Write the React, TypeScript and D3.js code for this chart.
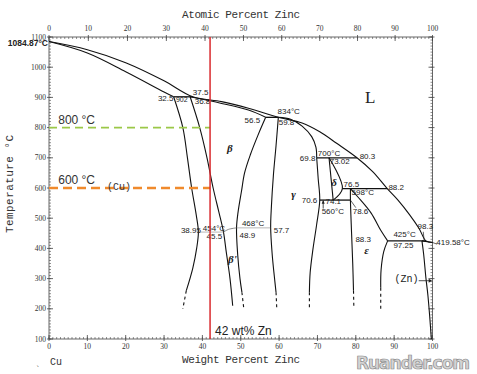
import React from 'react';
import * as d3 from 'd3';

type Pt = [number, number];

// phase boundaries, [wt% Zn, temperature °C]
const liquidus: Pt[] = [[0, 1084.87], [10, 1058], [20, 1015], [30, 955], [37.5, 902], [45, 886], [52, 864], [59.8, 834], [66, 815], [70.6, 786], [75, 748], [80.3, 700], [84.4, 654], [88.2, 598], [91, 560], [94, 512], [96.5, 466], [98.3, 425], [100, 419.58]];
const cuSolidus: Pt[] = [[0, 1084.87], [10, 1047], [20, 985], [30, 918], [32.5, 902]];
const betaSolidus: Pt[] = [[36.8, 902], [45, 880], [52, 858], [56.5, 834]];
const alphaSolvus: Pt[] = [[32.5, 902], [34.9, 800], [36.1, 700], [37.2, 600], [38.4, 510], [38.95, 454], [38.5, 400], [37.5, 335], [35.8, 260]];
const alphaSolvusTail: Pt[] = [[35.8, 260], [34.9, 200]];
const betaAlpha: Pt[] = [[36.8, 902], [39.3, 800], [41.2, 700], [42.8, 600], [44.3, 520], [45.5, 454], [46.2, 390], [47.2, 300], [47.9, 210]];
const betaGamma: Pt[] = [[56.5, 834], [54.5, 775], [52.5, 710], [51, 650], [50.2, 590], [49.3, 520], [48.9, 468], [49.2, 380], [49.8, 300], [50.3, 255]];
const betaGammaTail: Pt[] = [[50.3, 255], [50.8, 200]];
const gammaLeft: Pt[] = [[59.8, 834], [59.2, 740], [58.5, 640], [58, 540], [57.8, 468], [58.2, 380], [58.9, 290], [59.2, 255]];
const gammaLeftTail: Pt[] = [[59.2, 255], [59.4, 200]];
const gammaSolidus: Pt[] = [[59.8, 834], [63, 828], [66, 805], [68.5, 770], [69.6, 735], [69.8, 700]];
const gammaRight: Pt[] = [[69.8, 700], [70.2, 630], [70.6, 560], [69.8, 480], [68.8, 395], [68.1, 320], [67.9, 255]];
const gammaRightTail: Pt[] = [[67.9, 255], [67.9, 200]];
const deltaLeft: Pt[] = [[73.02, 700], [74.1, 560]];
const deltaRight: Pt[] = [[73.02, 700], [76.5, 598], [74.1, 560]];
const epsLeft: Pt[] = [[78.6, 598], [78.6, 560], [78.9, 450], [79.2, 350], [79.4, 260]];
const epsLeftTail: Pt[] = [[79.4, 260], [79.5, 200]];
const epsSolidus: Pt[] = [[78.6, 598], [80.5, 571], [84, 517], [86.5, 460], [88.3, 425]];
const epsRight: Pt[] = [[88.3, 425], [87.3, 390], [86.6, 330], [86.5, 270]];
const epsRightTail: Pt[] = [[86.5, 270], [86.5, 200]];
const znSolvus: Pt[] = [[97.25, 425], [97.7, 380], [98.3, 300], [98.8, 245], [99.3, 170], [99.7, 100]];
const etaSolidus: Pt[] = [[97.25, 425], [100, 419.58]];
const orderArc: Pt[] = [[45.5, 454], [46.8, 463], [48.9, 468]];

const solidCurves = [liquidus, cuSolidus, betaSolidus, alphaSolvus, betaAlpha, betaGamma, gammaLeft, gammaSolidus, gammaRight, deltaLeft, deltaRight, epsLeft, epsSolidus, epsRight, znSolvus, etaSolidus];
const dashedCurves = [alphaSolvusTail, betaGammaTail, gammaLeftTail, gammaRightTail, epsLeftTail, epsRightTail];

// invariant lines: temperature, from wt%, to wt%
const isotherms: [number, number, number][] = [[902, 32.5, 37.5], [834, 56.5, 59.8], [700, 69.8, 80.3], [598, 76.5, 88.2], [560, 70.6, 78.6], [425, 88.3, 98.3]];
const orderLines: [number, number, number][] = [[454, 38.95, 45.5], [468, 48.9, 57.7]];

// point labels: text, wt% and temperature where the text starts
const numLabels: [string, number, number][] = [
  ['32.5', 28.4, 888], ['902', 33.1, 885], ['37.5', 37.5, 908], ['36.8', 38.0, 878],
  ['56.5', 51.0, 815], ['834°C', 59.6, 845], ['59.8', 59.9, 809],
  ['69.8', 65.4, 689], ['700°C', 70.1, 706], ['73.02', 73.2, 679], ['80.3', 81.0, 696],
  ['76.5', 76.8, 603], ['598°C', 78.9, 577], ['88.2', 88.5, 593],
  ['70.6', 65.9, 550], ['74.1', 72.1, 547], ['560°C', 71.1, 514], ['78.6', 79.2, 514],
  ['38.95', 34.4, 451], ['454°C', 40.1, 458], ['45.5', 41.1, 431],
  ['468°C', 50.3, 474], ['48.9', 49.7, 434], ['57.7', 58.6, 451],
  ['88.3', 79.9, 420], ['425°C', 89.8, 438], ['97.25', 89.8, 401], ['98.3', 96.1, 464],
  ['419.58°C', 101, 411],
];
const phaseLabels: [string, number, number][] = [['β', 46.4, 719], ['γ', 63.2, 566], ['δ', 73.6, 607], ['ε', 82.2, 383], ["β'", 46.7, 352]];

const wtTicks = d3.range(0, 101, 10);
const atTicks = d3.range(0, 101, 10);
const tempTicks = d3.range(100, 1101, 100);

const alloyWt = 42;
const guideTemps = [800, 600];

const atToWt = (a: number) => (a * 65.38) / (a * 65.38 + (100 - a) * 63.55) * 100;

export default function App() {
  const x = d3.scaleLinear().domain([0, 100]).range([49, 432.5]);
  const y = d3.scaleLinear().domain([100, 1100]).range([339, 37]);
  const curve = d3.line<Pt>().x((d) => x(d[0])).y((d) => y(d[1])).curve(d3.curveCatmullRom.alpha(0.5));
  const straight = d3.line<Pt>().x((d) => x(d[0])).y((d) => y(d[1]));
  const [x0, x1] = x.range();
  const [yb, yt] = y.range();
  const serif = 'Liberation Serif';
  const mono = 'Liberation Mono';
  const axisCol = '#444';

  return (
    <svg width={477} height={374} style={{ position: 'absolute', left: 0, top: 0, background: '#fff' }}>
      {/* frame */}
      <rect x={x0} y={yt} width={x1 - x0} height={yb - yt} fill="none" stroke={axisCol} strokeWidth={0.8} />
      {d3.range(0, 101, 1).map((v) => (
        <g key={'mw' + v} stroke={axisCol} strokeWidth={0.6}>
          <line x1={x(v)} x2={x(v)} y1={yb} y2={yb - 2} />
          <line x1={x(atToWt(v))} x2={x(atToWt(v))} y1={yt} y2={yt + 2} />
        </g>
      ))}
      {d3.range(100, 1101, 10).map((v) => (
        <g key={'mt' + v} stroke={axisCol} strokeWidth={0.6}>
          <line x1={x0} x2={x0 + 2} y1={y(v)} y2={y(v)} />
          <line x1={x1} x2={x1 - 2} y1={y(v)} y2={y(v)} />
        </g>
      ))}
      {wtTicks.map((v) => (
        <g key={'w' + v}>
          <line x1={x(v)} x2={x(v)} y1={yb + 2} y2={yb - 4} stroke={axisCol} strokeWidth={0.8} />
          <text x={x(v)} y={yb + 10} fontSize={7.5} fontFamily={serif} textAnchor="middle" fill="#333">{v}</text>
        </g>
      ))}
      {atTicks.map((v) => (
        <g key={'a' + v}>
          <line x1={x(atToWt(v))} x2={x(atToWt(v))} y1={yt - 2} y2={yt + 4} stroke={axisCol} strokeWidth={0.8} />
          <text x={x(atToWt(v))} y={yt - 6} fontSize={7.5} fontFamily={serif} textAnchor="middle" fill="#333">{v}</text>
        </g>
      ))}
      {tempTicks.map((v) => (
        <g key={'t' + v}>
          <line x1={x0 - 2} x2={x0 + 4} y1={y(v)} y2={y(v)} stroke={axisCol} strokeWidth={0.8} />
          <line x1={x1 + 2} x2={x1 - 4} y1={y(v)} y2={y(v)} stroke={axisCol} strokeWidth={0.8} />
          <text x={x0 - 3} y={y(v) + 2.5} fontSize={7.5} fontFamily={serif} textAnchor="end" fill="#333">{v}</text>
        </g>
      ))}

      {/* titles */}
      <text x={241} y={18} fontSize={11} fontFamily={mono} textAnchor="middle" textLength={118} fill="#333">Atomic Percent Zinc</text>
      <text x={241} y={363} fontSize={11} fontFamily={mono} textAnchor="middle" textLength={118} fill="#333">Weight Percent Zinc</text>
      <text transform="translate(13,184) rotate(-90)" fontSize={11} fontFamily={mono} textAnchor="middle" textLength={98} fill="#333">Temperature °C</text>
      <text x={50} y={365} fontSize={10} fontFamily={mono} fill="#333">Cu</text>
      <text x={36} y={366} fontSize={8} fill="#555">、</text>

      {/* phase boundaries */}
      {solidCurves.map((c, i) => (
        <path key={'c' + i} d={curve(c) ?? ''} fill="none" stroke="#111" strokeWidth={1.1} />
      ))}
      {dashedCurves.map((c, i) => (
        <path key={'d' + i} d={straight(c) ?? ''} fill="none" stroke="#111" strokeWidth={1.1} strokeDasharray="3,3" />
      ))}
      {isotherms.map(([t, a, b], i) => (
        <line key={'i' + i} x1={x(a)} x2={x(b)} y1={y(t)} y2={y(t)} stroke="#111" strokeWidth={1.3} />
      ))}
      {orderLines.map(([t, a, b], i) => (
        <line key={'o' + i} x1={x(a)} x2={x(b)} y1={y(t)} y2={y(t)} stroke="#888" strokeWidth={0.6} />
      ))}
      <path d={curve(orderArc) ?? ''} fill="none" stroke="#555" strokeWidth={0.7} />

      {/* pointers */}
      <line x1={x(97.6)} x2={x(97.8)} y1={y(455)} y2={y(427)} stroke="#222" strokeWidth={0.7} />
      <line x1={x(100)} x2={x(101.2)} y1={y(419.58)} y2={y(414)} stroke="#222" strokeWidth={0.7} />
      <line x1={x(78.6)} x2={x(80)} y1={y(560)} y2={y(535)} stroke="#222" strokeWidth={0.7} />
      <line x1={x(71.5)} x2={x(71.5)} y1={y(532)} y2={y(558)} stroke="#222" strokeWidth={0.8} />
      <path d={`M${x(71.5) - 1.5},${y(548)} L${x(71.5)},${y(560)} L${x(71.5) + 1.5},${y(548)} Z`} fill="#222" />
      <line x1={x(96.4)} x2={x(99.6)} y1={y(293)} y2={y(293)} stroke="#222" strokeWidth={0.8} />
      <path d={`M${x(99)},${y(293) - 2} L${x(99.9)},${y(293)} L${x(99)},${y(293) + 2} Z`} fill="#222" />

      {numLabels.map(([s, w, t]) => (
        <text key={s} x={x(w)} y={y(t)} fontSize={s === '902' ? 7 : 8} fontFamily="Liberation Sans" fill="#222">{s}</text>
      ))}
      <text x={x0 - 1} y={y(1070)} fontSize={8.5} fontFamily="Liberation Sans" fontWeight="bold" textAnchor="end" fill="#222">1084.87°C</text>
      {phaseLabels.map(([s, w, t]) => (
        <text key={s} x={x(w)} y={y(t)} fontSize={11} fontFamily={serif} fontStyle="italic" fontWeight="bold" fill="#222">{s}</text>
      ))}
      <text x={x(82.4)} y={y(882)} fontSize={17} fontFamily={serif} fill="#222">L</text>
      <text x={x(90.1)} y={y(289)} fontSize={10} fontFamily={mono} fill="#222">(Zn)</text>

      {/* guides */}
      <line x1={x0} x2={x(alloyWt)} y1={y(guideTemps[0])} y2={y(guideTemps[0])} stroke="#9bc848" strokeWidth={1.8} strokeDasharray="8,5" />
      <line x1={x0} x2={x(alloyWt)} y1={y(guideTemps[1])} y2={y(guideTemps[1])} stroke="#f08a2c" strokeWidth={2.4} strokeDasharray="9,5" />
      <line x1={x(alloyWt)} x2={x(alloyWt)} y1={yt} y2={yb} stroke="#d92a2e" strokeWidth={1.5} />
      <text x={x(2.4)} y={y(guideTemps[0]) - 4} fontSize={12} fontFamily="Liberation Sans" fill="#333">800 °C</text>
      <text x={x(2.4)} y={y(guideTemps[1]) - 4} fontSize={12} fontFamily="Liberation Sans" fill="#333">600 °C</text>
      <text x={x(15.1)} y={y(guideTemps[1]) + 2} fontSize={10} fontFamily={mono} fill="#333">(Cu)</text>
      <text x={x(alloyWt) + 5} y={yb - 4} fontSize={12} fontFamily="Liberation Sans" fill="#222">{alloyWt} wt% Zn</text>

      {/* watermark */}
      <text x={356} y={369} fontSize={17} fontFamily="DejaVu Sans" fontWeight="bold" textLength={114} fill="#d4d4d4" stroke="#8a8a8a" strokeWidth={0.7}>Ruander.com</text>
    </svg>
  );
}
